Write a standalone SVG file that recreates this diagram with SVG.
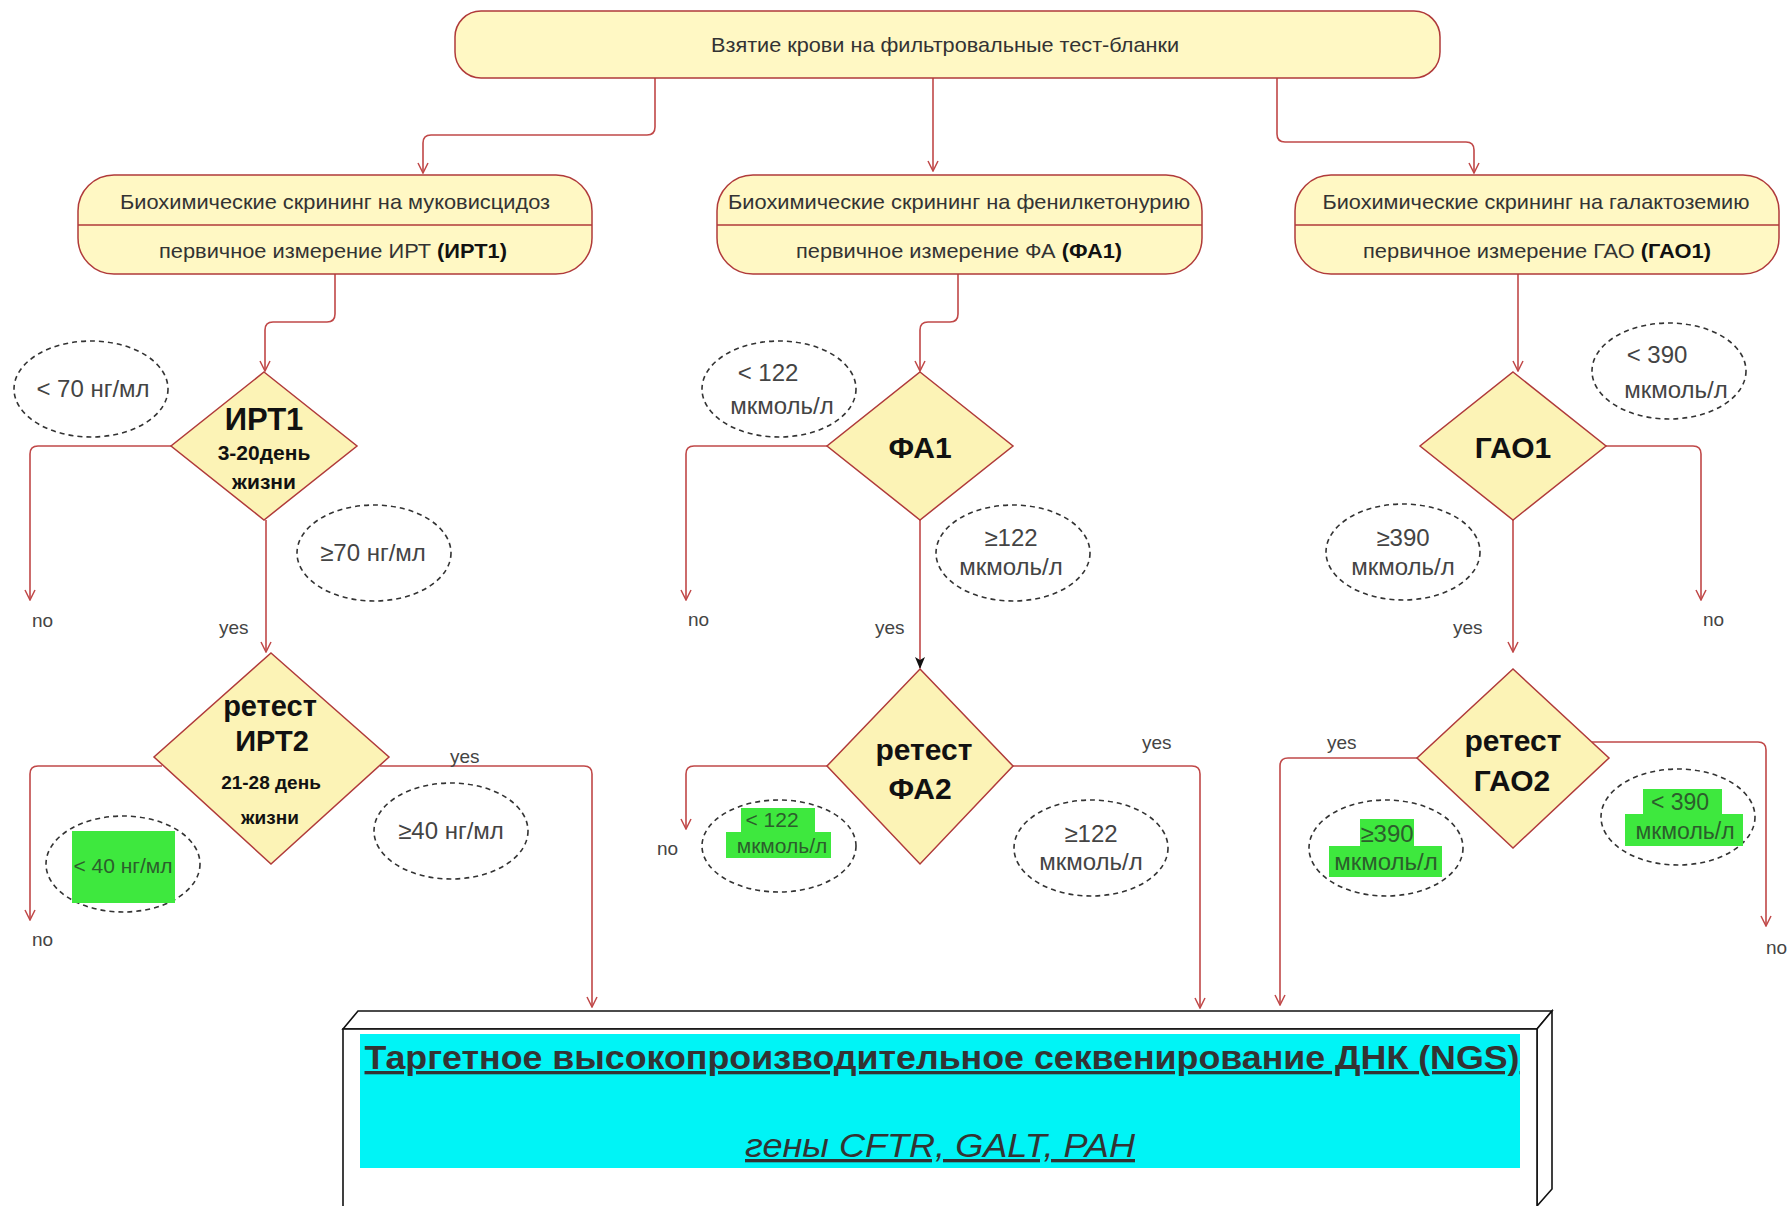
<svg xmlns="http://www.w3.org/2000/svg" width="1792" height="1206" viewBox="0 0 1792 1206">
<style>
text{font-family:"Liberation Sans",Arial,sans-serif;fill:#333;}
.box{fill:#fff8c4;stroke:#b03a3a;stroke-width:1.5;}
.dia{fill:#fcf3b6;stroke:#b03a3a;stroke-width:1.5;}
.div{stroke:#b03a3a;stroke-width:1.5;}
.c{fill:none;stroke:#c04848;stroke-width:1.6;marker-end:url(#arr);}
.ell{fill:none;stroke:#333;stroke-width:1.6;stroke-dasharray:5 4;}
.bt{font-size:21px;text-anchor:middle;}
.dt{font-weight:bold;fill:#111;text-anchor:middle;}
.et{font-size:24px;text-anchor:middle;fill:#444;}
.gt{text-anchor:middle;fill:#2c5e2c;}
.lb{font-size:19px;fill:#444;}
.g{fill:#3ee83e;}
</style>
<defs>
<marker id="arr" viewBox="0 0 12 12" refX="11" refY="6" markerWidth="12" markerHeight="12" markerUnits="userSpaceOnUse" orient="auto">
<path d="M1 1 L11 6 L1 11" fill="none" stroke="#c04848" stroke-width="1.5"/>
</marker>
<marker id="arrb" viewBox="0 0 12 12" refX="11" refY="6" markerWidth="12" markerHeight="12" markerUnits="userSpaceOnUse" orient="auto">
<path d="M0 1 L12 6 L0 11 L3 6 Z" fill="#111"/>
</marker>
</defs>

<g id="connectors">
<path class="c" d="M655 78 V127 Q655 135 647 135 H431 Q423 135 423 143 V173"/>
<path class="c" d="M933 78 V171"/>
<path class="c" d="M1277 78 V134 Q1277 142 1285 142 H1466 Q1474 142 1474 150 V173"/>
<path class="c" d="M335 274 V314 Q335 322 327 322 H273 Q265 322 265 330 V371"/>
<path class="c" d="M958 274 V314 Q958 322 950 322 H928 Q920 322 920 330 V371"/>
<path class="c" d="M1518 274 V371"/>
<path class="c" d="M171 446 H38 Q30 446 30 454 V600"/>
<path class="c" d="M266 520 V652"/>
<path class="c" d="M162 766 H38 Q30 766 30 774 V920"/>
<path class="c" d="M380 766 H584 Q592 766 592 774 V1007"/>
<path class="c" d="M827 446 H694 Q686 446 686 454 V600"/>
<path class="c" style="marker-end:url(#arrb)" d="M920 520 V668"/>
<path class="c" d="M827 766 H694 Q686 766 686 774 V829"/>
<path class="c" d="M1013 766 H1192 Q1200 766 1200 774 V1008"/>
<path class="c" d="M1606 446 H1693 Q1701 446 1701 454 V600"/>
<path class="c" d="M1513 520 V652"/>
<path class="c" d="M1417 758 H1288 Q1280 758 1280 766 V1005"/>
<path class="c" d="M1592 742 H1758 Q1766 742 1766 750 V926"/>
</g>

<g id="labels">
<text class="lb" x="32" y="627">no</text>
<text class="lb" x="219" y="634">yes</text>
<text class="lb" x="32" y="946">no</text>
<text class="lb" x="450" y="763">yes</text>
<text class="lb" x="688" y="626">no</text>
<text class="lb" x="875" y="634">yes</text>
<text class="lb" x="657" y="855">no</text>
<text class="lb" x="1142" y="749">yes</text>
<text class="lb" x="1703" y="626">no</text>
<text class="lb" x="1453" y="634">yes</text>
<text class="lb" x="1327" y="749">yes</text>
<text class="lb" x="1766" y="954">no</text>
</g>

<g id="start">
<rect class="box" x="455" y="11" width="985" height="67" rx="26"/>
<text class="bt" x="945" y="52" textLength="468" lengthAdjust="spacingAndGlyphs">Взятие крови на фильтровальные тест-бланки</text>
</g>

<g id="screen-cf">
<rect class="box" x="78" y="175" width="514" height="99" rx="36"/>
<line class="div" x1="78" y1="225" x2="592" y2="225"/>
<text class="bt" x="335" y="209" textLength="430" lengthAdjust="spacingAndGlyphs">Биохимические скрининг на муковисцидоз</text>
<text class="bt" x="333" y="258" textLength="348" lengthAdjust="spacingAndGlyphs">первичное измерение ИРТ <tspan font-weight="bold" fill="#111">(ИРТ1)</tspan></text>
</g>

<g id="screen-pku">
<rect class="box" x="717" y="175" width="485" height="99" rx="36"/>
<line class="div" x1="717" y1="225" x2="1202" y2="225"/>
<text class="bt" x="959" y="209" textLength="462" lengthAdjust="spacingAndGlyphs">Биохимические скрининг на фенилкетонурию</text>
<text class="bt" x="959" y="258" textLength="326" lengthAdjust="spacingAndGlyphs">первичное измерение ФА <tspan font-weight="bold" fill="#111">(ФА1)</tspan></text>
</g>

<g id="screen-gal">
<rect class="box" x="1295" y="175" width="484" height="99" rx="36"/>
<line class="div" x1="1295" y1="225" x2="1779" y2="225"/>
<text class="bt" x="1536" y="209" textLength="427" lengthAdjust="spacingAndGlyphs">Биохимические скрининг на галактоземию</text>
<text class="bt" x="1537" y="258" textLength="348" lengthAdjust="spacingAndGlyphs">первичное измерение ГАО <tspan font-weight="bold" fill="#111">(ГАО1)</tspan></text>
</g>

<g id="irt1">
<polygon class="dia" points="264,372 357,446 264,520 171,446"/>
<text class="dt" x="264" y="430" font-size="31">ИРТ1</text>
<text class="dt" x="264" y="460" font-size="21">3-20день</text>
<text class="dt" x="264" y="489" font-size="21">жизни</text>
</g>

<g id="irt2">
<polygon class="dia" points="271,653 389,757 271,864 154,757"/>
<text class="dt" x="270" y="716" font-size="29">ретест</text>
<text class="dt" x="272" y="751" font-size="29">ИРТ2</text>
<text class="dt" x="271" y="789" font-size="19">21-28 день</text>
<text class="dt" x="270" y="824" font-size="19">жизни</text>
</g>

<g id="pa1">
<polygon class="dia" points="920,372 1013,446 920,520 827,446"/>
<text class="dt" x="920" y="458" font-size="30">ФА1</text>
</g>

<g id="pa2">
<polygon class="dia" points="920,669 1013,766 920,864 827,766"/>
<text class="dt" x="924" y="760" font-size="30">ретест</text>
<text class="dt" x="920" y="799" font-size="30">ФА2</text>
</g>

<g id="gao1">
<polygon class="dia" points="1513,372 1606,446 1513,520 1420,446"/>
<text class="dt" x="1513" y="458" font-size="30">ГАО1</text>
</g>

<g id="gao2">
<polygon class="dia" points="1513,669 1609,758 1513,848 1417,758"/>
<text class="dt" x="1513" y="751" font-size="30">ретест</text>
<text class="dt" x="1512" y="791" font-size="30">ГАО2</text>
</g>

<g id="e-irt1-no">
<ellipse class="ell" cx="91" cy="389" rx="77" ry="48"/>
<text class="et" x="93" y="397">&lt; 70 нг/мл</text>
</g>
<g id="e-irt1-yes">
<ellipse class="ell" cx="374" cy="553" rx="77" ry="48"/>
<text class="et" x="373" y="561">≥70 нг/мл</text>
</g>
<g id="e-irt2-no">
<ellipse class="ell" cx="123" cy="864" rx="77" ry="48"/>
<rect class="g" x="72" y="831" width="103" height="72"/>
<text class="gt" x="123" y="873" font-size="21">&lt; 40 нг/мл</text>
</g>
<g id="e-irt2-yes">
<ellipse class="ell" cx="451" cy="831" rx="77" ry="48"/>
<text class="et" x="451" y="839">≥40 нг/мл</text>
</g>

<g id="e-pa1-no">
<ellipse class="ell" cx="779" cy="389" rx="77" ry="48"/>
<text class="et" x="768" y="381">&lt; 122</text>
<text class="et" x="782" y="414">мкмоль/л</text>
</g>
<g id="e-pa1-yes">
<ellipse class="ell" cx="1013" cy="553" rx="77" ry="48"/>
<text class="et" x="1011" y="546">≥122</text>
<text class="et" x="1011" y="575">мкмоль/л</text>
</g>
<g id="e-pa2-no">
<ellipse class="ell" cx="779" cy="846" rx="77" ry="46"/>
<rect class="g" x="741" y="808" width="74" height="24"/>
<rect class="g" x="726" y="832" width="105" height="26"/>
<text class="gt" x="772" y="827" font-size="21">&lt; 122</text>
<text class="gt" x="782" y="853" font-size="21">мкмоль/л</text>
</g>
<g id="e-pa2-yes">
<ellipse class="ell" cx="1091" cy="848" rx="77" ry="48"/>
<text class="et" x="1091" y="842">≥122</text>
<text class="et" x="1091" y="870">мкмоль/л</text>
</g>

<g id="e-gao1-no">
<ellipse class="ell" cx="1669" cy="371" rx="77" ry="48"/>
<text class="et" x="1657" y="363">&lt; 390</text>
<text class="et" x="1676" y="398">мкмоль/л</text>
</g>
<g id="e-gao1-yes">
<ellipse class="ell" cx="1403" cy="552" rx="77" ry="48"/>
<text class="et" x="1403" y="546">≥390</text>
<text class="et" x="1403" y="575">мкмоль/л</text>
</g>
<g id="e-gao2-yes">
<ellipse class="ell" cx="1386" cy="848" rx="77" ry="48"/>
<rect class="g" x="1360" y="819" width="54" height="27"/>
<rect class="g" x="1329" y="846" width="113" height="31"/>
<text class="gt" x="1387" y="842" font-size="24">≥390</text>
<text class="gt" x="1386" y="870" font-size="24">мкмоль/л</text>
</g>
<g id="e-gao2-no">
<ellipse class="ell" cx="1678" cy="817" rx="77" ry="48"/>
<rect class="g" x="1643" y="789" width="79" height="25"/>
<rect class="g" x="1625" y="814" width="118" height="32"/>
<text class="gt" x="1680" y="810" font-size="23">&lt; 390</text>
<text class="gt" x="1685" y="839" font-size="23">мкмоль/л</text>
</g>

<g id="ngs">
<polygon points="343,1029 358,1011 1552,1011 1537,1029" fill="#fff" stroke="#111" stroke-width="1.6"/>
<polygon points="1537,1029 1552,1011 1552,1189 1537,1206" fill="#fff" stroke="#111" stroke-width="1.6"/>
<rect x="343" y="1029" width="1194" height="190" fill="#fff" stroke="#111" stroke-width="1.6"/>
<rect x="360" y="1034" width="1160" height="134" fill="#00f4f6"/>
<text x="942" y="1069" font-size="33" font-weight="bold" text-anchor="middle" fill="#1a1a1a" text-decoration="underline" textLength="1155" lengthAdjust="spacingAndGlyphs">Таргетное высокопроизводительное секвенирование ДНК (NGS)</text>
<text x="940" y="1157" font-size="33" font-style="italic" text-anchor="middle" fill="#1a1a1a" text-decoration="underline" textLength="390" lengthAdjust="spacingAndGlyphs">гены CFTR, GALT, PAH</text>
</g>
</svg>
